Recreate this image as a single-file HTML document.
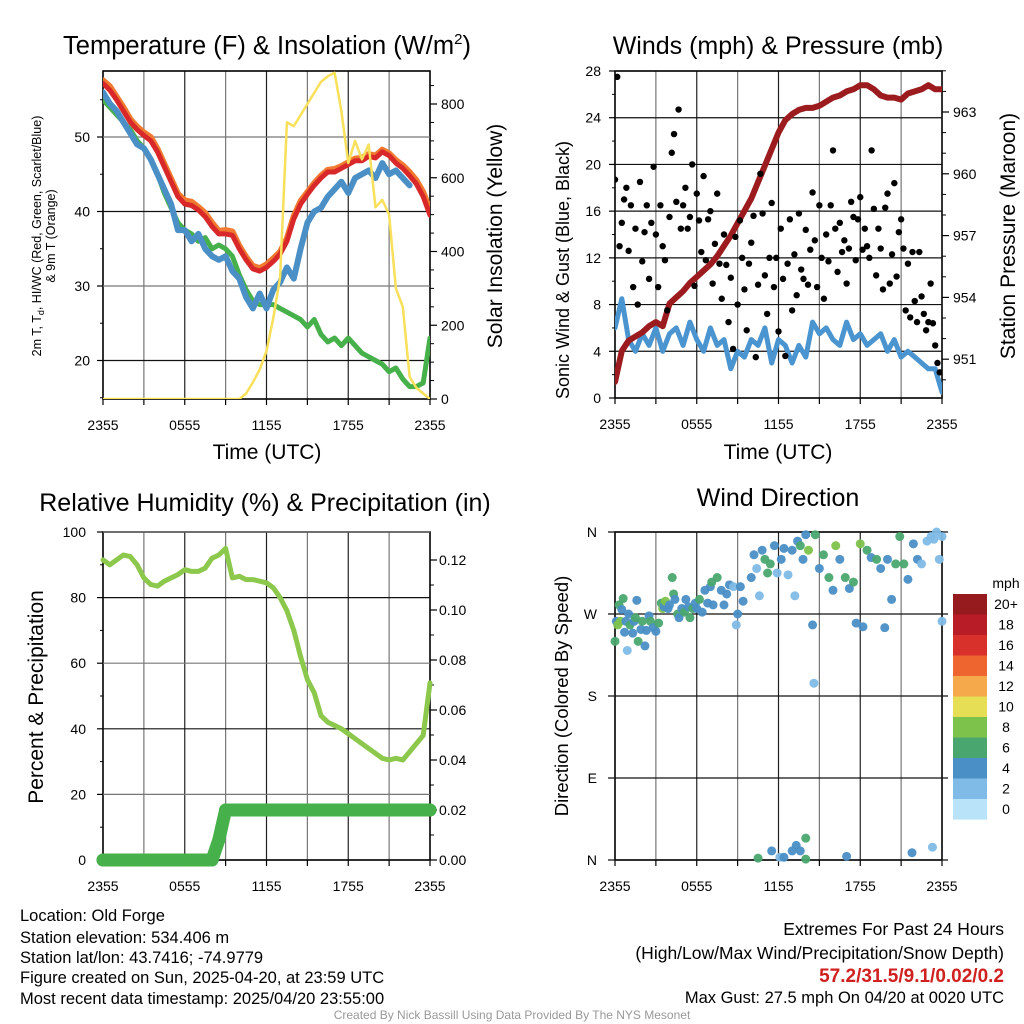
<!DOCTYPE html>
<html><head><meta charset="utf-8">
<style>
html,body{margin:0;padding:0;background:#fff;}
svg{display:block;font-family:"Liberation Sans",Arial,sans-serif;}
</style></head>
<body>
<svg id="chart" width="1024" height="1024" viewBox="0 0 1024 1024" xmlns="http://www.w3.org/2000/svg">
<defs>
<clipPath id="c1"><rect x="103" y="71" width="327" height="328"/></clipPath>
<clipPath id="c2"><rect x="615" y="71" width="327" height="327"/></clipPath>
<clipPath id="c3"><rect x="95" y="532" width="343" height="340"/></clipPath>
<clipPath id="c4"><rect x="610" y="527" width="337" height="338"/></clipPath>
</defs>
<g id="root"></g>
<text x="267" y="54" font-size="25.5" text-anchor="middle">Temperature (F) &amp; Insolation (W/m<tspan font-size="15" dy="-10">2</tspan><tspan dy="10">)</tspan></text>
<text x="778" y="54" font-size="25" text-anchor="middle">Winds (mph) &amp; Pressure (mb)</text>
<text x="265" y="511" font-size="25" text-anchor="middle">Relative Humidity (%) &amp; Precipitation (in)</text>
<text x="778" y="506" font-size="25" text-anchor="middle">Wind Direction</text>
<text x="267" y="459" font-size="21" text-anchor="middle">Time (UTC)</text>
<text x="778" y="459" font-size="21" text-anchor="middle">Time (UTC)</text>
<text transform="translate(41,236) rotate(-90)" font-size="12.5" text-anchor="middle">2m T, T<tspan font-size="9" dy="3">d</tspan><tspan dy="-3">, HI/WC (Red, Green, Scarlet/Blue)</tspan></text>
<text transform="translate(55,236) rotate(-90)" font-size="12.5" text-anchor="middle">&amp; 9m T (Orange)</text>
<text transform="translate(502,236) rotate(-90)" font-size="21" text-anchor="middle">Solar Insolation (Yellow)</text>
<text transform="translate(569,270) rotate(-90)" font-size="18" text-anchor="middle">Sonic Wind &amp; Gust (Blue, Black)</text>
<text transform="translate(1015,236) rotate(-90)" font-size="21" text-anchor="middle">Station Pressure (Maroon)</text>
<text transform="translate(43,697) rotate(-90)" font-size="21" text-anchor="middle">Percent &amp; Precipitation</text>
<text transform="translate(568,696) rotate(-90)" font-size="18.5" text-anchor="middle">Direction (Colored By Speed)</text>
<g font-size="16.5">
<text x="20" y="921">Location: Old Forge</text>
<text x="20" y="943">Station elevation: 534.406 m</text>
<text x="20" y="963">Station lat/lon: 43.7416; -74.9779</text>
<text x="20" y="983">Figure created on Sun, 2025-04-20, at 23:59 UTC</text>
<text x="20" y="1004">Most recent data timestamp: 2025/04/20 23:55:00</text>
</g>
<g font-size="17.5" text-anchor="end">
<text x="1004" y="935">Extremes For Past 24 Hours</text>
<text x="1004" y="959">(High/Low/Max Wind/Precipitation/Snow Depth)</text>
<text x="1004" y="982" fill="#d02020" font-weight="bold" font-size="19">57.2/31.5/9.1/0.02/0.2</text>
<text x="1004" y="1003" font-size="16.5">Max Gust: 27.5 mph On 04/20 at 0020 UTC</text>
</g>
<text x="512" y="1019" font-size="12" fill="#999" text-anchor="middle">Created By Nick Bassill Using Data Provided By The NYS Mesonet</text>
</svg>
<script>
const hoursLabels = ["2355","0555","1155","1755","2355"];
const tempRed = [57.2,56.3,55,53.5,52,51,50.2,49.5,48,46,44,42,41,40.8,40.2,39.3,38,37,37,36.8,35,33.5,32.3,32,32.5,33.3,34.3,36,39,41,42.3,43.5,44.5,45.3,45.3,45.8,46.3,46.8,46.8,47.4,47.2,48,47.5,46.5,45.8,44.8,43.7,42,39.5];
const temp9m = [57.6,56.8,55.4,54,52.4,51.4,50.6,50,48.4,46.4,44.4,42.4,41.5,41.3,40.6,39.8,38.5,37.4,37.5,37.3,35.4,33.9,32.7,32.4,32.9,33.7,34.6,36.4,39.4,41.4,42.6,43.8,44.8,45.6,45.7,46.1,46.6,47.1,47.2,47.7,47.5,48.3,47.8,46.9,46.2,45.3,44.2,42.6,40.2];
const windChill = [56,54.5,53.5,52,50.5,49,48.5,47,45,43,41,37.5,37.5,36,37,35,34,33.5,34,32,31,28.5,27,29,27,29.5,30.5,32.5,31,35,38.5,40,40.5,42,43,44,42.5,44.5,45,45.5,44.5,46.5,45,45.5,44.5,43.5];
const dewpoint = [55,54,53,52,51,49.5,48.5,47,45,42.5,40.5,38.5,37.5,37,36,36.5,35,35.5,35,34,31.5,29.5,28,27.5,27.5,27.5,27,26.5,26,25.5,24.5,25.5,23.5,22.5,23,22,23,22,21,20.5,20,19.5,18.5,19,17.5,16.5,16.5,17,23];
const solar = [0,0,0,0,0,0,0,0,0,0,0,0,0,0,0,0,0,0,0,0,0,15,45,80,130,220,330,750,740,770,800,830,860,875,885,780,640,700,650,690,520,540,500,300,250,60,30,15,0];
const windSpd = [6,8.5,5,4,5.5,4.5,6,4,5.5,6,4.5,6.5,5,4,6,4.5,5,2.5,4,3.5,5,4.5,6,3,5,4.5,3,4.5,3.5,6.5,5.5,6,5,4.5,6.5,5,5.5,4.5,5,5.5,4,5,3.5,4,3.5,3,2.5,2.5,0.5];
const pressure = [949.9,951.4,951.9,952.1,952.3,952.6,952.8,952.6,953.7,954.0,954.3,954.7,955.0,955.3,955.6,956.0,956.5,957.0,957.6,958.2,958.8,959.6,960.4,961.2,962.0,962.6,962.9,963.1,963.2,963.2,963.3,963.5,963.7,963.8,964.0,964.1,964.3,964.3,964.1,963.8,963.7,963.7,963.6,963.9,964.0,964.1,964.3,964.1,964.1];
const gusts = [18.7,27.5,13,15,17,18, 12.6,16.5,9.5,14.5,8,18.5, 11.7,14.2,16.5,10.2,15,19.8, 14,9.5,16.5,13,11.8,7.5, 15.5,21,22.6,16.8,24.7,14.5, 16.5,18,14.5,15.5,20,9.6, 17.5,15.2,12.5,19,11.8,15.3, 16,9.8,13.2,17.5,11.5,8.5, 14,11.4,6.5,10.3,4.2,13.8, 8,15.2,12,9.3,5.8,11.5, 13.3,15.6,3.5,9.7,19.2,15.8, 10.5,7.2,12,16.7,9.5,12, 5.7,14.5,10.2,3.6,11.5,15.3, 7.5,12.3,8.8,15.8,11,10.2, 14.4,9.7,12.7,17.6,13.5,9.5, 16.5,12,8.5,14,11.7,16.5, 21.2,14.5,10.8,15,12.5,13.5, 9.8,12.8,16.8,15.5,11.8,15.3, 17.2,12.7,14.5,13,12,21.2, 16.2,10.5,14.5,12.8,9.3,16.3, 17.5,9.8,12.3,18.4,10.4,14.2, 15.3,12.8,7.5,11.5,6.9,12.5, 8.3,6.5,12.5,8.7,7.2,5.8, 6.5,9.8,6.4,4.5,3,2.2];
const rh = [91.5,90,91.5,93,92.5,90,86,84,83.5,85,86,87,88.5,88,88,89,92,93,95,86,86.5,85.5,85.5,85,84.5,83,80,76,70,62,55,51,44,42,41,40,38.5,37,35.5,34,32.5,31,30.5,31,30.5,33,35.5,38,54];
const precip = [0,0,0,0,0,0,0,0,0,0,0,0,0,0,0,0,0,0.008,0.02,0.02,0.02,0.02,0.02,0.02,0.02,0.02,0.02,0.02,0.02,0.02,0.02,0.02,0.02,0.02,0.02,0.02,0.02,0.02,0.02,0.02,0.02,0.02,0.02,0.02,0.02,0.02,0.02,0.02,0.02];
const dirHours = [0,0.1,0.2,0.3,0.4,0.5,0.6,0.7,0.8,0.9,1.0,1.1,1.3,1.4,1.5,1.6,1.7,1.9,2.0,2.2,2.3,2.5,2.6,2.8,3.0,3.2,3.4,3.5,3.6,3.7,3.9,4.0,4.2,4.3,4.4,4.6,4.7,4.9,5.1,5.2,5.4,5.5,5.7,5.9,6.0,6.2,6.4,6.6,6.8,7.0,7.1,7.2,7.5,7.8,8.0,8.2,8.4,8.7,8.9,9.0,9.2,9.4,10.0,10.2,10.4,10.6,10.8,11.0,11.2,11.4,11.7,11.9,12.2,12.4,12.7,13.0,13.2,13.4,13.6,13.8,14.0,14.2,14.5,14.7,15.0,15.3,15.7,16.0,16.2,16.5,16.9,17.2,17.5,17.7,18.0,18.2,18.5,18.8,19.2,19.5,19.8,20.0,20.3,20.6,20.9,21.2,21.5,21.9,22.2,22.5,22.9,23.2,23.4,23.6,23.8,24.0,24.0,14.6,10.5,11.5,12.1,12.4,13.0,13.3,13.6,14.0,14.0,17.0,21.8,23.3];
const dirDeg = [240,262,258,280,262,275,287,250,262,230,270,258,249,262,266,285,240,253,262,235,252,268,262,255,251,260,282,276,278,284,276,280,310,292,286,270,266,276,272,286,278,266,276,282,276,286,272,296,282,300,305,280,310,296,280,292,302,300,258,270,300,284,310,335,320,290,340,330,315,325,345,315,330,342,313,340,290,350,345,330,357,340,258,357,320,335,310,296,345,330,310,298,305,260,347,256,340,332,330,320,255,330,286,325,355,325,308,347,330,325,350,355,352,360,330,262,355,194,2,10,3,3,10,16,10,24,1,4,8,14];
const dirSpd = [6,4,8,6,8,4,6,4,4,2,4,6,4,4,6,4,6,4,6,4,4,4,6,4,4,6,6,8,4,8,4,4,6,6,4,6,4,4,6,4,4,6,6,4,4,6,4,4,4,4,6,4,6,4,4,4,4,2,2,4,4,4,4,4,2,2,4,6,6,6,4,2,4,4,2,4,2,4,6,4,4,8,4,6,4,6,6,4,8,4,6,4,6,4,8,4,6,4,6,4,4,4,4,6,6,6,4,4,4,2,2,2,2,2,2,2,2,2,6,4,2,4,4,4,4,6,6,4,4,2];
const cbLabels = ["20+","18","16","14","12","10","8","6","4","2","0"];
const cbColors = ["#951b1e","#b71c27","#d8312b","#ef6530","#f6a94a","#e6df55","#7dc24b","#4aa66f","#4a8fc6","#7fbbe6","#b8e3f8"];

const NS = "http://www.w3.org/2000/svg";
const root = document.getElementById("root");
function mk(tag, attrs, parent){ const e=document.createElementNS(NS,tag); for(const k in attrs) e.setAttribute(k,attrs[k]); (parent||root).appendChild(e); return e; }
function txt(x,y,s,size,anchor,parent){ const t=mk("text",{x:x,y:y,"font-size":size,"text-anchor":anchor||"middle"},parent); t.textContent=s; return t; }

const xL = h => 103 + h*327/24;
const xR = h => 615 + h*327/24;
const yTemp = t => 137 + (50 - t)*7.45;
const ySolar = s => 399 - s*295/800;
const yWind = w => 398 - w*327/28;
const yPres = p => 112 + (963 - p)*20.6;
const yRH = r => 860 - r*3.28;
const yPcp = p => 860 - p*2500;
const yDir = d => 860 - d*328/360;

function frame(x0,y0,x1,y1,xf,name){
  const g=mk("g",{});
  
  
  for(let h=3;h<24;h+=3){ mk("line",{x1:xf(h),y1:y0,x2:xf(h),y2:y1,stroke:(h%6?"#777":"#222"),"stroke-width":1.2},g); }
  for(let h=0;h<=24;h+=3){ mk("line",{x1:xf(h),y1:y1,x2:xf(h),y2:y1+6,stroke:"#000","stroke-width":1.2},g); }
  hoursLabels.forEach((s,i)=>{ const t=txt(xf(i*6),y1+31,s,14,"middle",g);   });
  mk("rect",{x:x0,y:y0,width:x1-x0,height:y1-y0,fill:"none",stroke:"#000","stroke-width":1.6},g);
  return g;
}
function hgrid(g,x0,x1,y,dark){ mk("line",{x1:x0,y1:y,x2:x1,y2:y,stroke:dark?"#111":"#777","stroke-width":1.2},g); }
function poly(arr,xf,yf,step,stroke,w,clip,name){
  let d=""; arr.forEach((v,i)=>{ if(v===null) return; d+=(d?"L":"M")+xf(i*step).toFixed(1)+","+yf(v).toFixed(1); });
  const p=mk("path",{d:d,fill:"none",stroke:stroke,"stroke-width":w,"stroke-linejoin":"round","stroke-linecap":"round","clip-path":"url(#"+clip+")"});
  
  
  return p;
}

// Panel 1
const g1=frame(103,71,430,399,xL,"temp-panel");
[20,30,40,50].forEach(v=>{ hgrid(g1,103,430,yTemp(v),v%20==0); mk("line",{x1:97,y1:yTemp(v),x2:103,y2:yTemp(v),stroke:"#000","stroke-width":1.2},g1); txt(90,yTemp(v)+5,String(v),14,"end",g1); });
[15,25,35,45,55].forEach(v=>{ mk("line",{x1:100,y1:yTemp(v),x2:103,y2:yTemp(v),stroke:"#000"},g1); });
[0,200,400,600,800].forEach(v=>{ mk("line",{x1:430,y1:ySolar(v),x2:437,y2:ySolar(v),stroke:"#000","stroke-width":1.2},g1); txt(441,ySolar(v)+5,String(v),14,"start",g1); });
for(let v=50;v<900;v+=50){ if(v%200) mk("line",{x1:430,y1:ySolar(v),x2:434,y2:ySolar(v),stroke:"#000"},g1); }
poly(dewpoint,xL,yTemp,0.5,"#46b04a",5,"c1","dewpoint-line");
poly(windChill,xL,yTemp,0.5,"#4a8fc6",6,"c1","windchill-line");
poly(temp9m,xL,yTemp,0.5,"#f07a30",6,"c1","temp-9m-line");
poly(tempRed,xL,yTemp,0.5,"#d8282a",5,"c1","temp-2m-line");
poly(solar,xL,ySolar,0.5,"#f8e05a",2.5,"c1","solar-line");

// Panel 2
const g2=frame(615,71,942,398,xR,"wind-panel");
for(let v=0;v<=28;v+=4){ hgrid(g2,615,942,yWind(v),true); mk("line",{x1:609,y1:yWind(v),x2:615,y2:yWind(v),stroke:"#000","stroke-width":1.2},g2); txt(601,yWind(v)+5,String(v),14,"end",g2); }
for(let v=2;v<28;v+=4){ mk("line",{x1:612,y1:yWind(v),x2:615,y2:yWind(v),stroke:"#000"},g2); }
[951,954,957,960,963].forEach(v=>{ mk("line",{x1:942,y1:yPres(v),x2:949,y2:yPres(v),stroke:"#000","stroke-width":1.2},g2); txt(953,yPres(v)+5,String(v),14,"start",g2); });
for(let v=950;v<=965;v++){ if(v%3) mk("line",{x1:942,y1:yPres(v),x2:946,y2:yPres(v),stroke:"#000"},g2); }
poly(windSpd,xR,yWind,0.5,"#4a94d0",5,"c2","wind-speed-line");
poly(pressure,xR,yPres,0.5,"#9b1b1e",6,"c2","pressure-line");
gusts.forEach((v,i)=>{
  const c=mk("circle",{cx:xR(i/6),cy:yWind(v),r:3.2,fill:"#000","clip-path":"url(#c2)"});
  
  
});

// Panel 3
const g3=frame(103,532,430,860,xL,"rh-panel");
for(let v=0;v<=100;v+=20){ hgrid(g3,103,430,yRH(v),v%40==0); mk("line",{x1:97,y1:yRH(v),x2:103,y2:yRH(v),stroke:"#000","stroke-width":1.2},g3); txt(86,yRH(v)+5,String(v),14,"end",g3); }
for(let v=10;v<100;v+=20){ mk("line",{x1:100,y1:yRH(v),x2:103,y2:yRH(v),stroke:"#000"},g3); }
for(let v=0;v<=0.121;v+=0.02){ mk("line",{x1:430,y1:yPcp(v),x2:437,y2:yPcp(v),stroke:"#000","stroke-width":1.2},g3); txt(439,yPcp(v)+5,v.toFixed(2),14,"start",g3); }
for(let v=0.01;v<0.13;v+=0.02){ mk("line",{x1:430,y1:yPcp(v),x2:434,y2:yPcp(v),stroke:"#000"},g3); }
poly(rh,xL,yRH,0.5,"#8cc84c",5,"c3","rh-line");
poly(precip,xL,yPcp,0.5,"#46b04a",13,"c3","precip-line");
precip.forEach((v,i)=>{
  const c=mk("circle",{cx:xL(i*0.5),cy:yPcp(v),r:6.5,fill:"#46b04a"});
  
  
});

// Panel 4
const g4=frame(615,532,942,860,xR,"wdir-panel");
["N","E","S","W","N"].forEach((s,i)=>{ const d=i*90; hgrid(g4,608,948,yDir(d),true); txt(597,yDir(d)+5,s,14,"end",g4); });
const spdColor = s => s>=20?cbColors[0]:cbColors[10-Math.floor(s/2)];
dirHours.forEach((h,i)=>{
  const c=mk("circle",{cx:xR(h),cy:yDir(dirDeg[i]),r:4.5,fill:spdColor(dirSpd[i]),"fill-opacity":0.95,"clip-path":"url(#c4)"});
  
  
});
const cb=mk("g",{});


txt(1006,588,"mph",14,"middle",cb);
cbColors.forEach((c,i)=>{
  mk("rect",{x:953,y:594+i*20.5,width:34,height:20.6,fill:c},cb);
  const t=txt(1006,609+i*20.5,cbLabels[i],14,"middle",cb);
  
  
});
</script>
</body></html>
